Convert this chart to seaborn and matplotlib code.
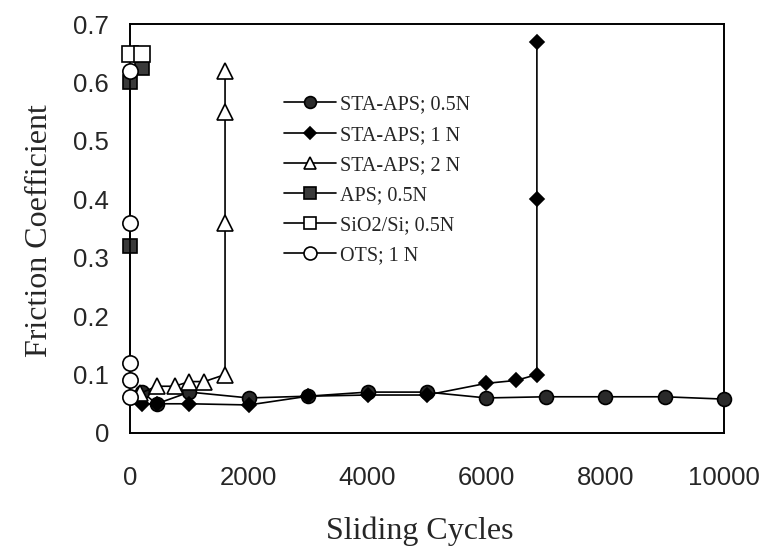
import numpy as np
import pandas as pd
import matplotlib
matplotlib.use("Agg")
import matplotlib.pyplot as plt
import seaborn as sns

# ---- data ----
sta05_x = [200, 450, 1000, 2000, 3000, 4000, 5000, 6000, 7000, 8000, 9000, 10000]
sta05_y = [0.07, 0.05, 0.07, 0.06, 0.063, 0.07, 0.07, 0.06, 0.062, 0.062, 0.062, 0.058]

sta1_x = [200, 450, 1000, 2000, 3000, 4000, 5000, 6000, 6500, 6850, 6850, 6850]
sta1_y = [0.05, 0.05, 0.05, 0.048, 0.063, 0.065, 0.065, 0.085, 0.09, 0.10, 0.40, 0.67]

sta2_x = [170, 450, 750, 1000, 1250, 1600, 1600, 1600, 1600]
sta2_y = [0.068, 0.08, 0.08, 0.088, 0.088, 0.10, 0.36, 0.55, 0.62]

aps_x = [0, 0, 200]
aps_y = [0.32, 0.60, 0.625]

sio2_x = [0, 200]
sio2_y = [0.648, 0.648]

ots_x = [0, 0, 0, 0, 0]
ots_y = [0.062, 0.09, 0.12, 0.36, 0.62]

labels = ["STA-APS; 0.5N", "STA-APS; 1 N", "STA-APS; 2 N",
          "APS; 0.5N", "SiO2/Si; 0.5N", "OTS; 1 N"]

x_ticks = [0, 2000, 4000, 6000, 8000, 10000]
y_ticks = [0, 0.1, 0.2, 0.3, 0.4, 0.5, 0.6, 0.7]
y_ticklabels = ["0", "0.1", "0.2", "0.3", "0.4", "0.5", "0.6", "0.7"]

series = [
    (sta05_x, sta05_y), (sta1_x, sta1_y), (sta2_x, sta2_y),
    (aps_x, aps_y), (sio2_x, sio2_y), (ots_x, ots_y),
]
frames = []
for lab, (xs, ys) in zip(labels, series):
    frames.append(pd.DataFrame({"cycles": xs, "mu": ys, "series": lab,
                                "order": range(len(xs))}))
df = pd.concat(frames, ignore_index=True)

styles = {
    "STA-APS; 0.5N": dict(marker="o", mfc="#2a2a2a", ms=10),
    "STA-APS; 1 N": dict(marker="D", mfc="black", ms=7),
    "STA-APS; 2 N": dict(marker="^", mfc="white", ms=11),
    "APS; 0.5N": dict(marker="s", mfc="#3a3a3a", ms=10),
    "SiO2/Si; 0.5N": dict(marker="s", mfc="white", ms=11),
    "OTS; 1 N": dict(marker="o", mfc="white", ms=11),
}

sns.set_style("white")
plt.rcParams["font.family"] = ["Liberation Sans", "DejaVu Sans"]

fig = plt.figure(figsize=(7.61, 5.49), dpi=100)
ax = fig.add_axes([130 / 761, 1 - 433 / 549, 594 / 761, 409 / 549])

for lab in labels:
    sub = df[df["series"] == lab]
    st = styles[lab]
    sns.lineplot(data=sub, x="cycles", y="mu", sort=False, estimator=None,
                 ax=ax, color="black", linewidth=1.2,
                 marker=st["marker"], markersize=st["ms"],
                 markerfacecolor=st["mfc"], markeredgecolor="black",
                 markeredgewidth=1.2, label=lab, clip_on=False, zorder=3)

ax.set_xlim(0, 10000)
ax.set_ylim(0, 0.7)
ax.set_xticks(x_ticks)
ax.set_xticklabels([str(t) for t in x_ticks])
ax.set_yticks(y_ticks)
ax.set_yticklabels(y_ticklabels)
ax.tick_params(axis="both", length=0, labelsize=18.5)
ax.tick_params(axis="x", pad=24)
ax.tick_params(axis="y", pad=15)
for sp in ax.spines.values():
    sp.set_color("black")
    sp.set_linewidth(1.4)
    sp.set_visible(True)

ax.set_xlabel("Sliding Cycles", family=["Liberation Serif", "DejaVu Serif"], fontsize=23)
ax.set_ylabel("Friction Coefficient", family=["Liberation Serif", "DejaVu Serif"], fontsize=23)
ax.xaxis.set_label_coords(0.488, -0.205)
ax.yaxis.set_label_coords(-0.128, 0.496)

leg = ax.legend(loc="upper left", bbox_to_anchor=(0.245, 0.845), frameon=False,
                prop={"family": ["Liberation Serif", "DejaVu Serif"], "size": 14.5},
                handlelength=2.6, handletextpad=0.2, labelspacing=0.55,
                borderaxespad=0, markerscale=0.85)

fig.savefig("out.png", dpi=100)
